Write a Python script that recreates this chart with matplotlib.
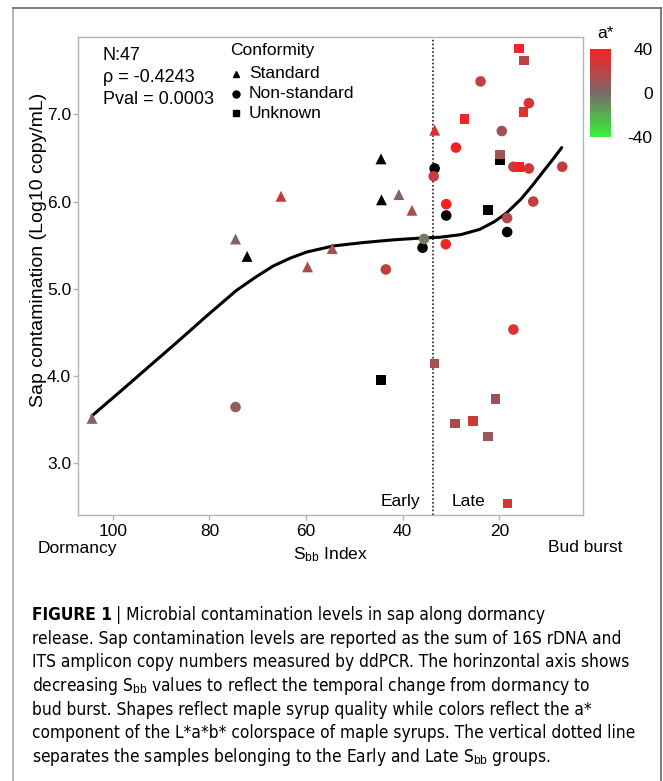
import numpy as np
import matplotlib
matplotlib.use("Agg")
import matplotlib.pyplot as plt
from matplotlib import font_manager
from matplotlib.colors import LinearSegmentedColormap, Normalize
from matplotlib.lines import Line2D
from matplotlib.cm import ScalarMappable

plt.rcParams["font.family"] = ["Liberation Sans", "DejaVu Sans"]
plt.rcParams["mathtext.fontset"] = "custom"
plt.rcParams["mathtext.rm"] = "Liberation Sans"
plt.rcParams["mathtext.it"] = "Liberation Sans:italic"

# Sbb index, log10 copies/mL and a* colour (None = no colour measured, drawn black)
std_sbb = [104.3, 74.6, 72.2, 65.2, 59.7, 54.6, 44.5, 44.4, 40.8, 38.1, 33.4]
std_sap = [3.51, 5.57, 5.37, 6.06, 5.25, 5.46, 6.49, 6.02, 6.08, 5.90, 6.82]
std_a = [4, 3, None, 25, 15, 14, None, None, 3, 15, 33]

non_sbb = [74.6, 43.5, 35.9, 35.6, 33.4, 33.6, 31.0, 31.0, 31.1, 29.0,
           23.9, 18.4, 18.4, 19.5, 17.1, 17.1, 13.9, 13.9, 13.0, 7.0]
non_sap = [3.64, 5.22, 5.47, 5.57, 6.38, 6.29, 5.97, 5.84, 5.51, 6.62,
           7.38, 5.65, 5.81, 6.81, 4.53, 6.40, 6.38, 7.13, 6.00, 6.40]
non_a = [6, 24, None, -6, None, 24, 40, None, 36, 40,
         22, None, 17, 12, 30, 22, 30, 30, 24, 25]

unk_sbb = [44.5, 33.4, 29.2, 25.5, 22.3, 20.8, 18.3, 27.2, 22.3, 19.9,
           19.9, 16.0, 16.0, 14.9, 15.0]
unk_sap = [3.95, 4.14, 3.45, 3.48, 3.30, 3.73, 2.53, 6.95, 5.90, 6.48,
           6.54, 6.40, 7.76, 7.62, 7.03]
unk_a = [None, 14, 18, 25, 8, 12, 30, 38, None, None,
         12, 38, 38, 20, 30]

# smoothed trend
fit_sbb = [104.3, 98.0, 92.0, 86.8, 80.5, 74.4, 70.5, 66.8, 63.3, 59.9, 54.4,
           48.0, 42.0, 36.5, 32.3, 28.0, 24.1, 21.0, 18.5, 15.5, 13.1, 11.0, 9.0, 7.1]
fit_sap = [3.54, 3.84, 4.13, 4.38, 4.69, 4.98, 5.13, 5.26, 5.35, 5.42, 5.49,
           5.53, 5.56, 5.58, 5.59, 5.62, 5.68, 5.77, 5.87, 6.03, 6.19, 6.34, 6.48, 6.62]

stats_lines = ["N:47", "ρ = -0.4243", "Pval = 0.0003"]
conformity = ["Standard", "Non-standard", "Unknown"]
x_ticks = [100, 80, 60, 40, 20]
y_ticks = [3.0, 4.0, 5.0, 6.0, 7.0]
cbar_ticks = [-40, 0, 40]
group_split = 33.8

caption = [
    "Microbial contamination levels in sap along dormancy",
    "release. Sap contamination levels are reported as the sum of 16S rDNA and",
    "ITS amplicon copy numbers measured by ddPCR. The horinzontal axis shows",
    "decreasing S$_{\\mathrm{bb}}$ values to reflect the temporal change from dormancy to",
    "bud burst. Shapes reflect maple syrup quality while colors reflect the a*",
    "component of the L*a*b* colorspace of maple syrups. The vertical dotted line",
    "separates the samples belonging to the Early and Late S$_{\\mathrm{bb}}$ groups.",
]

cmap = LinearSegmentedColormap.from_list(
    "astar", [(0.0, (0.22, 0.95, 0.22)), (0.5, (0.48, 0.41, 0.41)), (1.0, (0.97, 0.13, 0.13))])
norm = Normalize(-40, 40)


def colours(vals):
    return [(0, 0, 0, 1) if v is None else cmap(norm(v)) for v in vals]


def caption_family():
    # prefer a narrow face for the caption if one is installed
    for fam, stretch in [("Liberation Sans Narrow", "normal"), ("DejaVu Sans", "condensed")]:
        try:
            path = font_manager.findfont(font_manager.FontProperties(family=fam, stretch=stretch),
                                         fallback_to_default=False)
        except Exception:
            continue
        name = path.lower()
        if "narrow" in name or "condensed" in name:
            return [fam], stretch
    return ["Liberation Sans"], "normal"


W, H = 663, 781
fig = plt.figure(figsize=(W / 100, H / 100), dpi=100)
ax = fig.add_axes([78 / W, 1 - 515 / H, 505 / W, 478 / H])

grey = "#b4b4b4"
for s in ax.spines.values():
    s.set_color(grey)
    s.set_linewidth(1.0)
ax.tick_params(colors=grey, labelcolor="black", labelsize=12.5, length=3.5, width=1)
ax.tick_params(axis="y", pad=1.5)
ax.tick_params(axis="x", pad=3)

ax.set_xlim(107.2, 2.7)
ax.set_ylim(2.40, 7.89)
ax.set_xticks(x_ticks)
ax.set_xticklabels([str(t) for t in x_ticks])
ax.set_yticks(y_ticks)
ax.set_yticklabels([f"{t:.1f}" for t in y_ticks])

ax.axvline(group_split, color="black", lw=1.1, ls=(0, (1, 1.5)), zorder=1)
ax.plot(fit_sbb, fit_sap, color="black", lw=2.2, zorder=2, solid_capstyle="round")

ax.scatter(std_sbb, std_sap, marker="^", s=62, c=colours(std_a), lw=0, zorder=3)
ax.scatter(non_sbb, non_sap, marker="o", s=58, c=colours(non_a), lw=0, zorder=3)
ax.scatter(unk_sbb, unk_sap, marker="s", s=48, c=colours(unk_a), lw=0, zorder=3)

ax.text(40.5, 2.55, "Early", fontsize=12.5, ha="center", va="center")
ax.text(26.4, 2.55, "Late", fontsize=12.5, ha="center", va="center")

for i, line in enumerate(stats_lines):
    fig.text(103 / W, 1 - (56 + i * 21.5) / H, line, fontsize=13, va="center")

fig.text(230 / W, 1 - 50 / H, "Conformity", fontsize=12.5, va="center")
for i, (lab, mk) in enumerate(zip(conformity, ["^", "o", "s"])):
    y = 1 - (74 + i * 19.5) / H
    fig.add_artist(Line2D([236 / W], [y], marker=mk, color="black", ms=5, ls="none"))
    fig.text(249 / W, y, lab, fontsize=12.5, va="center")

ax.set_ylabel("Sap contamination (Log10 copy/mL)", fontsize=14)
ax.yaxis.set_label_coords(-0.062, 0.555)
fig.text(330 / W, 1 - 555 / H, "S$_{\\mathrm{bb}}$ Index", fontsize=12.5, ha="center", va="center")
fig.text(38 / W, 1 - 548 / H, "Dormancy", fontsize=12.5, va="center")
fig.text(622 / W, 1 - 548 / H, "Bud burst", fontsize=12.5, va="center", ha="right")

# colour bar for a*
cax = fig.add_axes([590 / W, 1 - 137 / H, 21 / W, 88 / H])
cb = fig.colorbar(ScalarMappable(norm=norm, cmap=cmap), cax=cax)
cb.outline.set_visible(False)
cb.set_ticks(cbar_ticks)
cb.set_ticklabels([str(t) for t in cbar_ticks])
cb.ax.tick_params(length=4, width=1, color="white", labelsize=12.5, pad=26)
for t in cb.ax.get_yticklabels():
    t.set_horizontalalignment("right")
fig.text(606 / W, 1 - 33 / H, "a*", fontsize=12.5, ha="center", va="center")

# outer frame of the figure panel
fig.add_artist(Line2D([13 / W, 13 / W], [0, 1 - 8 / H], color="#aaaaaa", lw=1.2))
fig.add_artist(Line2D([13 / W, 661 / W], [1 - 8 / H, 1 - 8 / H], color="#666666", lw=1.2))
fig.add_artist(Line2D([661 / W, 661 / W], [0, 1 - 8 / H], color="#666666", lw=1.2))

# caption, sized so the longest line spans the panel text width
cap_family, cap_stretch = caption_family()
probe = fig.text(0, 0, caption[1], fontsize=13.5, family=cap_family, stretch=cap_stretch)
fig.canvas.draw()
cap_size = 13.5 * 590 / probe.get_window_extent().width
probe.remove()

y0 = 615
bold = fig.text(32 / W, 1 - y0 / H, "FIGURE 1", fontsize=cap_size, fontweight="bold",
                va="center", family=cap_family, stretch=cap_stretch)
fig.canvas.draw()
bb = bold.get_window_extent()
fig.text(bb.x1 / W + 4 / W, 1 - y0 / H, "| " + caption[0], fontsize=cap_size, va="center",
         family=cap_family, stretch=cap_stretch)
for i, line in enumerate(caption[1:], start=1):
    fig.text(32 / W, 1 - (y0 + i * 23.7) / H, line, fontsize=cap_size, va="center",
             family=cap_family, stretch=cap_stretch)

fig.savefig("out.png", dpi=100)
